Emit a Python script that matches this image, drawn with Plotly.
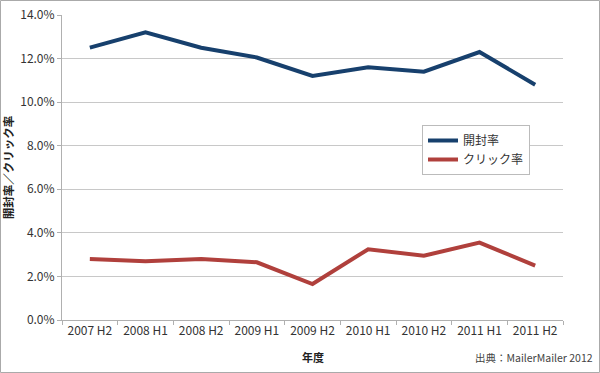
import plotly.graph_objects as go

categories = ["2007 H2", "2008 H1", "2008 H2", "2009 H1", "2009 H2",
              "2010 H1", "2010 H2", "2011 H1", "2011 H2"]
open_rate = [12.5, 13.2, 12.5, 12.05, 11.2, 11.6, 11.4, 12.3, 10.8]
click_rate = [2.8, 2.7, 2.8, 2.65, 1.65, 3.25, 2.95, 3.55, 2.5]
y_ticks = [0, 2, 4, 6, 8, 10, 12, 14]
y_tick_labels = [f"{v:.1f}%" for v in y_ticks]

FONT = "Noto Sans CJK JP, Noto Sans, sans-serif"
L, R, T, B = 62, 37, 15, 53
PW, PH = 600 - L - R, 373 - T - B

fig = go.Figure()
fig.add_trace(go.Scatter(x=categories, y=open_rate, mode="lines", name="開封率",
                         line=dict(color="#17406d", width=4)))
fig.add_trace(go.Scatter(x=categories, y=click_rate, mode="lines", name="クリック率",
                         line=dict(color="#b0403c", width=4)))

fig.update_layout(
    width=600, height=373,
    margin=dict(l=L, r=R, t=T, b=B, autoexpand=False),
    paper_bgcolor="white", plot_bgcolor="white",
    font=dict(family=FONT, size=12, color="#333333"),
    legend=dict(x=(422 - L) / PW, y=(373 - B - 125) / PH, xanchor="left", yanchor="top",
                bgcolor="white", bordercolor="#bbbbbb", borderwidth=1,
                font=dict(size=12, color="#333333"),
                tracegroupgap=0, itemwidth=30),
    xaxis=dict(type="category", showline=True, linecolor="#b0b0b0", linewidth=1,
               ticks="outside", tickson="boundaries", ticklen=4, tickcolor="#b0b0b0",
               showgrid=False, tickfont=dict(size=12, color="#333333"),
               range=[-0.5, 8.5], automargin=False),
    yaxis=dict(range=[0, 14], tickvals=y_ticks, ticktext=y_tick_labels,
               showline=True, linecolor="#b0b0b0", linewidth=1,
               ticks="outside", ticklen=4, tickcolor="#b0b0b0",
               showgrid=True, gridcolor="#c8c8c8", gridwidth=1,
               tickfont=dict(size=12, color="#333333"), zeroline=False,
               automargin=False,
               title=dict(text="<b>開封率／クリック率</b>", font=dict(size=11.5, color="#222222"), standoff=4)),
    annotations=[
        dict(text="<b>年度</b>", x=(313 - L) / PW, y=-(357 - (373 - B)) / PH, xref="paper", yref="paper",
             xanchor="center", yanchor="middle", showarrow=False,
             font=dict(size=11, color="#222222")),
        dict(text="出典：MailerMailer 2012", x=(595 - L) / PW, y=-(357 - (373 - B)) / PH,
             xref="paper", yref="paper", xanchor="right", yanchor="middle",
             showarrow=False, font=dict(size=10.5, color="#444444")),
    ],
    shapes=[dict(type="rect", xref="paper", yref="paper",
                 x0=(0.5 - L) / PW, x1=(599.5 - L) / PW,
                 y0=-(372.5 - (373 - B)) / PH, y1=(373 - B - 0.5) / PH,
                 line=dict(color="#aaaaaa", width=1), fillcolor="rgba(0,0,0,0)")],
)

fig.write_html("out.html", config={"displayModeBar": False},
               post_script="document.body.style.margin='0';")
